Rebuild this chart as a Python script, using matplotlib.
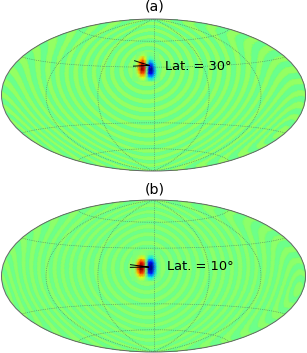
import numpy as np
import matplotlib
matplotlib.use("Agg")
import matplotlib.pyplot as plt
from matplotlib.ticker import FixedLocator

# ring edges, degrees of angular distance from the source
ring_edges = [15, 20, 24.5, 29, 34, 38.5, 43, 48, 52.5, 57, 62, 66.5, 71, 76, 80.5, 85, 90,
              94.5, 99, 104, 108.5, 113, 118, 122.5, 127, 132, 136.5, 141, 146, 150.5, 155,
              160, 164.5, 169, 174]
ring_low = [-0.045, -0.035]
ring_high = [0.06, 0.045]

source_lat = [30, 10]
source_lon = -7
panel_names = ["(a)", "(b)"]
lat_labels = ["Lat. = 30°", "Lat. = 10°"]

# dipole values, rows are latitude offset in deg, columns longitude in deg
dipole_lon = [-23, -20, -17, -14, -11, -8, -5, -2, 1, 4, 7]
dipole_dlat = [-15, -11, -7, -3, 1, 5, 9, 13, 17]
dipole_a = [
    [0, 0, 0, 0.02, 0.04, 0.01, -0.05, -0.08, -0.04, 0, 0],
    [0, 0, 0.05, 0.22, 0.28, 0.03, -0.3, -0.38, -0.2, -0.03, 0],
    [0, 0.04, 0.22, 0.6, 0.6, 0.04, -0.72, -0.8, -0.42, -0.1, 0],
    [0, 0.1, 0.5, 0.95, 0.85, 0.0, -0.9, -1.0, -0.5, -0.12, 0],
    [0, 0.15, 0.62, 1.0, 0.82, -0.04, -0.8, -0.85, -0.38, -0.08, 0],
    [0, 0.14, 0.55, 0.85, 0.6, -0.05, -0.5, -0.45, -0.18, -0.03, 0],
    [0, 0.08, 0.35, 0.52, 0.3, -0.03, -0.2, -0.15, -0.05, 0, 0],
    [0, 0.02, 0.1, 0.16, 0.08, -0.01, -0.04, -0.02, 0, 0, 0],
    [0, 0, 0.01, 0.02, 0.01, 0, 0, 0, 0, 0, 0],
]
dipole_b = [
    [0, 0, 0.01, 0.04, 0.04, 0, -0.03, -0.04, -0.02, 0, 0],
    [0, 0.01, 0.1, 0.28, 0.25, 0.01, -0.25, -0.3, -0.12, -0.02, 0],
    [0, 0.05, 0.35, 0.7, 0.62, 0.02, -0.62, -0.72, -0.35, -0.07, 0],
    [0, 0.1, 0.6, 1.0, 0.88, 0.02, -0.9, -1.0, -0.5, -0.1, 0],
    [0, 0.1, 0.62, 1.0, 0.9, 0.02, -0.9, -1.0, -0.52, -0.1, 0],
    [0, 0.06, 0.42, 0.8, 0.7, 0.01, -0.7, -0.8, -0.4, -0.07, 0],
    [0, 0.02, 0.14, 0.34, 0.3, 0, -0.3, -0.34, -0.15, -0.02, 0],
    [0, 0, 0.02, 0.06, 0.05, 0, -0.05, -0.06, -0.02, 0, 0],
    [0, 0, 0, 0.01, 0.01, 0, -0.01, -0.01, 0, 0, 0],
]
dipoles = [dipole_a, dipole_b]

# black fork lines near the source (lon, lat in deg)
fork_lon = [[-24, -5, -24], [-25, -5, -25]]
fork_lat = [[37, 32, 31], [12, 9.5, 9.2]]

boxes = [[1.5, 19, 304, 152], [1.5, 200, 304, 152]]
title_y = [6.5, 190]
label_xy = [[165, 66.5], [167, 267]]

W, H = 307, 353
fig = plt.figure(figsize=(W / 100, H / 100), dpi=100)

lon_deg = np.arange(-180, 180.5, 0.75)
lat_deg = np.arange(-90, 90.5, 0.75)
lon_grid, lat_grid = np.meshgrid(np.radians(lon_deg), np.radians(lat_deg))

for i in range(2):
    x0, y0, w, h = boxes[i]
    ax = fig.add_axes([x0 / W, 1 - (y0 + h) / H, w / W, h / H], projection="hammer")

    s_lat = np.radians(source_lat[i])
    s_lon = np.radians(source_lon)
    cos_d = np.sin(lat_grid) * np.sin(s_lat) + np.cos(lat_grid) * np.cos(s_lat) * np.cos(lon_grid - s_lon)
    dist = np.degrees(np.arccos(np.clip(cos_d, -1, 1)))
    band = np.digitize(dist, ring_edges)
    field = np.where(band % 2 == 0, ring_low[i], ring_high[i])

    ax.pcolormesh(lon_grid, lat_grid, field, cmap="jet", vmin=-1, vmax=1, shading="gouraud")
    d_lon = np.radians(dipole_lon)
    d_lat = np.radians(np.array(dipole_dlat) + source_lat[i])
    ax.pcolormesh(d_lon, d_lat, np.array(dipoles[i]), cmap="jet", vmin=-1, vmax=1, shading="gouraud", zorder=2)

    ax.plot(np.radians(fork_lon[i]), np.radians(fork_lat[i]), color="black", lw=0.7, zorder=3)

    ax.set_longitude_grid(60)
    ax.set_longitude_grid_ends(90)
    ax.yaxis.set_major_locator(FixedLocator(np.radians([-60, -30, 30, 60])))
    ax.xaxis.set_major_locator(FixedLocator(np.radians([-120, -60, 0, 60, 120])))
    ax.set_xticklabels([])
    ax.set_yticklabels([])
    ax.grid(True, color="#557766", ls=":", lw=0.5)
    ax.set_axisbelow(False)
    ax.spines["geo"].set_edgecolor("#666666")
    ax.spines["geo"].set_linewidth(0.7)

    fig.text(154.5 / W, 1 - title_y[i] / H, panel_names[i], ha="center", va="center", fontsize=10.2)
    fig.text(label_xy[i][0] / W, 1 - label_xy[i][1] / H, lat_labels[i], ha="left", va="center", fontsize=9.4)

fig.savefig("out.png", dpi=100)
